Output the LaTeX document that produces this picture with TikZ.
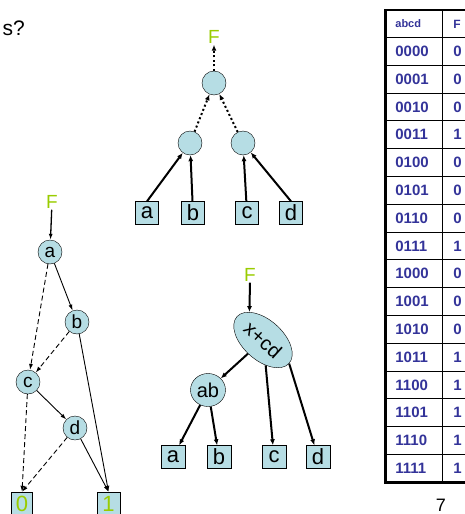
\documentclass[tikz,border=0pt]{standalone}
\usepackage{fontspec}
\setmainfont{Liberation Sans}
\usepackage{xcolor}
\usetikzlibrary{shapes,arrows.meta,positioning,calc}
\definecolor{cellblue}{RGB}{182,221,228}
\definecolor{fgreen}{RGB}{153,204,0}
\definecolor{tblue}{RGB}{51,51,153}

\begin{document}
\begin{tikzpicture}[x=1pt,y=-1pt,
    gate/.style={circle, draw, fill=cellblue, minimum size=24pt, inner sep=0pt, font=\fontsize{19}{19}\selectfont},
    leaf/.style={rectangle, draw, fill=cellblue, minimum width=23pt, minimum height=23pt, inner sep=0pt, font=\fontsize{22}{22}\selectfont},
    outname/.style={text=fgreen, inner sep=1pt, font=\fontsize{19}{19}\selectfont},
    wire/.style={line width=2pt, -{Latex[length=6pt,width=5pt]}},
    dotwire/.style={wire, dash pattern=on 2pt off 2.5pt},
    hi/.style={line width=0.9pt, -{Latex[length=6pt,width=4pt]}},
    lo/.style={hi, dash pattern=on 5pt off 3pt},
    bitcell/.style={rectangle, draw, line width=0.8pt, minimum height=27.8pt, inner xsep=10pt, inner ysep=0pt, text width=37pt, align=left, text=tblue, font=\bfseries\fontsize{15}{15}\selectfont},
    fcell/.style={bitcell, inner xsep=11pt, text width=26pt}]
    \useasboundingbox (0,0) rectangle (464,514);

    \node[anchor=base east, inner sep=0pt, font=\fontsize{21}{21}\selectfont] (title) at (25,35) {s?};

    % gate tree
    \node[outname] (Ft) at (214,37) {F};
    \node[gate] (r) at (214,83) {};
    \node[gate] (l) at (190,143) {};
    \node[gate] (rr) at (243,143) {};
    \node[leaf] (a1) at (147,213) {a};
    \node[leaf] (b1) at (193,213) {b};
    \node[leaf] (c1) at (247,213) {c};
    \node[leaf] (d1) at (291,213) {d};

    \draw[dotwire] (r) -- (Ft);
    \draw[dotwire] (l) -- (r);
    \draw[dotwire] (rr) -- (r);
    \draw[wire] (a1.north) -- (l);
    \draw[wire] (b1) -- (l);
    \draw[wire] (c1) -- (rr);
    \draw[wire] (d1.north) -- (rr);

    % decision diagram
    \node[outname] (F3) at (52,202) {F};
    \node[gate] (na) at (50,252) {a};
    \node[gate] (nb) at (77,322) {b};
    \node[gate] (nc) at (28,382) {c};
    \node[gate] (nd) at (75,428) {d};
    \node[leaf, minimum width=21pt, minimum height=24pt, text=fgreen] (n0) at (22,504) {0};
    \node[leaf, minimum height=24pt, text=fgreen] (n1) at (108.5,504) {1};

    \draw[hi, line width=1.3pt] (F3) -- (na);
    \draw[hi] (na) -- (nb);
    \draw[lo] (na) -- (nc);
    \draw[lo] (nb) -- (nc);
    \draw[hi] (nb) -- (n1.north);
    \draw[hi] (nc) -- (nd);
    \draw[lo] (nc) -- (n0.north);
    \draw[lo] (nd) -- (n0.north);
    \draw[hi] (nd) -- (n1.north);

    % factored form
    \node[outname] (F2) at (250,275) {F};
    \node[ellipse, draw, fill=cellblue, rotate=-42, minimum width=70pt, minimum height=40pt, inner sep=0pt, font=\fontsize{20}{20}\selectfont] (xcd) at (263,340) {x+cd};
    \node[ellipse, draw, fill=cellblue, minimum width=35pt, minimum height=33pt, inner sep=0pt, font=\fontsize{20}{20}\selectfont] (ab) at (208,390) {ab};
    \node[leaf, minimum width=24pt] (a2) at (173,457) {a};
    \node[leaf, minimum width=24pt] (b2) at (219,457) {b};
    \node[leaf, minimum width=24pt] (c2) at (274,457) {c};
    \node[leaf, minimum width=24pt] (d2) at (318,457) {d};

    \draw[wire] (F2.south) -- (xcd.158);
    \draw[wire] (xcd) -- (ab);
    \draw[wire] (ab) -- (a2);
    \draw[wire] (ab) -- (b2);
    \draw[wire] (xcd.-42) -- (c2);
    \draw[wire] (xcd.east) -- (d2);

    % truth table
    \node[bitcell, anchor=north west, minimum height=27pt, font=\bfseries\fontsize{11}{11}\selectfont] (hbits) at (385,10) {abcd};
    \node[fcell, anchor=north west, minimum height=27pt, font=\bfseries\fontsize{12}{12}\selectfont] (hval) at (442,10) {F};
    \foreach \bits/\f [count=\i] in {0000/0,0001/0,0010/0,0011/1,0100/0,0101/0,0110/0,0111/1,
                                     1000/0,1001/0,1010/0,1011/1,1100/1,1101/1,1110/1,1111/1} {
      \node[bitcell, anchor=north west] (bits\i) at (385,{37+(\i-1)*27.8}) {\bits};
      \node[fcell, anchor=north west] (val\i) at (442,{37+(\i-1)*27.8}) {\f};
    }
    \draw[line width=1.4pt] (hbits.north west) rectangle (val16.south east);
    \draw[line width=3pt] (hbits.north west) -- (bits16.south west) -- (val16.south east);

    \node[font=\fontsize{18}{18}\selectfont] (page) at (441,505) {7};
\end{tikzpicture}
\end{document}
